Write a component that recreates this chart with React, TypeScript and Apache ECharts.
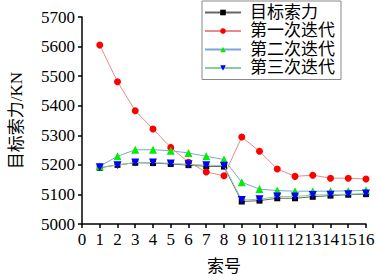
import React, { useEffect, useRef } from "react";
import * as echarts from "echarts";

const indices = [1, 2, 3, 4, 5, 6, 7, 8, 9, 10, 11, 12, 13, 14, 15, 16];
const target = [5190, 5200, 5207, 5206, 5203, 5199, 5195, 5194, 5076, 5079, 5087, 5087, 5092, 5096, 5099, 5101];
const iter1 = [5605, 5481, 5383, 5321, 5259, 5209, 5176, 5163, 5294, 5246, 5186, 5161, 5165, 5155, 5155, 5152];
const iter2 = [5195, 5229, 5251, 5251, 5248, 5240, 5229, 5218, 5141, 5118, 5113, 5111, 5111, 5111, 5112, 5114];
const iter3 = [5192, 5199, 5208, 5208, 5205, 5202, 5199, 5197, 5081, 5084, 5093, 5093, 5098, 5099, 5101, 5103];
const seriesNames = ["目标索力", "第一次迭代", "第二次迭代", "第三次迭代"];

const pair = (vals: number[]) => indices.map((x, i) => [x, vals[i]]);

export default function App() {
  const ref = useRef<HTMLDivElement>(null);
  useEffect(() => {
    if (!ref.current) return;
    const chart = echarts.init(ref.current, null, { renderer: "svg" });
    const font = "Liberation Serif, Noto Sans CJK SC, serif";
    const axisCommon = {
      axisLine: { show: true, lineStyle: { color: "#000", width: 1.5 } },
      axisTick: { show: true, inside: false, length: 4, lineStyle: { color: "#000", width: 1.5 } },
      splitLine: { show: false },
      nameTextStyle: { fontFamily: font, fontSize: 17, color: "#000" },
    };
    chart.setOption({
      animation: false,
      backgroundColor: "#fff",
      textStyle: { fontFamily: font },
      grid: { left: 71, right: 12, top: 17, bottom: 46 },
      legend: {
        orient: "vertical",
        left: 202,
        top: 1,
        width: 136,
        padding: [3, 6, 3, 2],
        itemGap: 1.5,
        itemWidth: 36,
        itemHeight: 7,
        borderColor: "#888",
        borderWidth: 1,
        textStyle: { fontFamily: font, fontSize: 17, color: "#000", padding: [0, 0, 0, 4] },
        data: seriesNames,
      },
      xAxis: {
        type: "value",
        min: 0,
        max: 16,
        interval: 1,
        name: "索号",
        nameLocation: "middle",
        nameGap: 34,
        ...axisCommon,
        axisLabel: { fontFamily: font, fontSize: 17, color: "#000", margin: 7, formatter: (v: number) => String(v) },
      },
      yAxis: {
        type: "value",
        min: 5000,
        max: 5700,
        interval: 100,
        name: "目标索力/KN",
        nameLocation: "middle",
        nameGap: 57,
        ...axisCommon,
        axisLabel: { fontFamily: font, fontSize: 17, color: "#000", margin: 7, formatter: (v: number) => String(v) },
      },
      series: [
        {
          name: seriesNames[0],
          type: "line",
          data: pair(target),
          symbol: "rect",
          symbolSize: 6,
          itemStyle: { color: "#000" },
          lineStyle: { color: "#666", width: 1 },
          z: 2,
        },
        {
          name: seriesNames[1],
          type: "line",
          data: pair(iter1),
          symbol: "circle",
          symbolSize: 7,
          itemStyle: { color: "#ff0000" },
          lineStyle: { color: "#e88a8a", width: 1 },
          z: 3,
        },
        {
          name: seriesNames[2],
          type: "line",
          data: pair(iter2),
          symbol: "triangle",
          symbolSize: 8,
          itemStyle: { color: "#00ee00" },
          lineStyle: { color: "#7aa6d8", width: 1 },
          z: 4,
        },
        {
          name: seriesNames[3],
          type: "line",
          data: pair(iter3),
          symbol: "triangle",
          symbolRotate: 180,
          symbolSize: 8,
          itemStyle: { color: "#0000ff" },
          lineStyle: { color: "#8ccaa6", width: 1 },
          z: 5,
        },
      ],
    });
    return () => chart.dispose();
  }, []);
  return <div ref={ref} style={{ width: 378, height: 280, position: "absolute", left: 0, top: 0 }} />;
}
